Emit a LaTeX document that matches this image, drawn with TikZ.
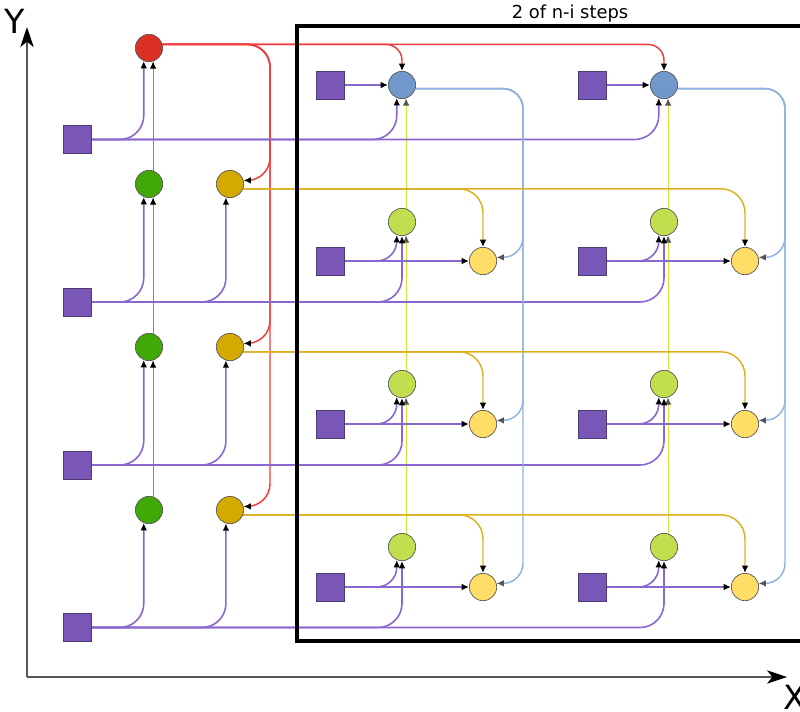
\documentclass[tikz,border=0pt]{standalone}
\usepackage{fontspec}
\setmainfont{DejaVu Sans}
\usetikzlibrary{arrows.meta,backgrounds,calc}
\definecolor{purpf}{HTML}{7A57B6}
\definecolor{purpb}{HTML}{4B3B73}
\definecolor{purpl}{HTML}{8A66D0}
\definecolor{redf}{HTML}{DC3024}
\definecolor{redl}{HTML}{F03A3A}
\definecolor{greenf}{HTML}{41A907}
\definecolor{greenl}{HTML}{5BAF2D}
\definecolor{dyf}{HTML}{D4AA00}
\definecolor{dyl}{HTML}{DDB020}
\definecolor{bluef}{HTML}{7298CB}
\definecolor{bluel}{HTML}{8FB2E3}
\definecolor{limef}{HTML}{C1DE4F}
\definecolor{limel}{HTML}{CDE635}
\definecolor{yelf}{HTML}{FFDD66}
\definecolor{circb}{HTML}{555555}
\definecolor{axisc}{HTML}{555555}
\begin{document}
\begin{tikzpicture}[x=0.75pt,y=-0.75pt,
  nd/.style={circle,draw=circb,line width=0.5pt,minimum size=20.5pt,inner sep=0pt},
  sqbox/.style={rectangle,draw=purpb,fill=purpf,line width=0.5pt,minimum size=21pt,inner sep=0pt},
  blk/.style={-{Latex[length=5.5pt,width=5pt,color=black]}},
  gry/.style={-{Latex[length=5.5pt,width=5pt,color=circb]}},
  pline/.style={draw=purpl,line width=1.2pt,blk},
  rline/.style={draw=redl,line width=1.1pt,blk},
  gline/.style={draw=greenl,line width=0.8pt,blk},
  dline/.style={draw=dyl,line width=1.1pt,blk},
  bline/.style={draw=bluel,line width=1.1pt,gry},
  lline/.style={draw=limel,line width=0.8pt,gry},
  axis/.style={draw=axisc,line width=1.1pt,-{Stealth[length=15pt,width=10pt,inset=4pt,color=black]}}
]
\useasboundingbox (0,0) rectangle (800,711);
\clip (0,0) rectangle (800,711);

% left nodes
\node[sqbox] (s0) at (77,139.5) {};
\node[sqbox] (s1) at (77,302) {};
\node[sqbox] (s2) at (77,465) {};
\node[sqbox] (s3) at (77,627.5) {};
\node[nd,fill=redf] (r) at (149,48) {};
\node[nd,fill=greenf] (g1) at (149,184) {};
\node[nd,fill=greenf] (g2) at (149,347) {};
\node[nd,fill=greenf] (g3) at (149,510) {};
\node[nd,fill=dyf] (d1) at (230,184) {};
\node[nd,fill=dyf] (d2) at (230,347) {};
\node[nd,fill=dyf] (d3) at (230,510) {};

% box nodes
\foreach \c/\dx in {a/0,b/262} {
  \node[sqbox] (bs\c) at (330+\dx,85) {};
  \node[nd,fill=bluef] (b\c) at (402+\dx,85) {};
  \foreach \i/\ly/\yy in {1/222/261,2/384/424,3/547/587} {
    \node[sqbox] (q\i\c) at (330+\dx,\yy) {};
    \node[nd,fill=limef] (l\i\c) at (402+\dx,\ly) {};
    \node[nd,fill=yelf] (y\i\c) at (483+\dx,\yy) {};
  }
}

\begin{pgfonlayer}{background}
% red
\foreach \i in {1,2,3} {
  \draw[rline,rounded corners=17pt] (r.15) -- (270,0 |- r.15) -- (270,0 |- d\i.15) -- (d\i.15);
}
\draw[rline,rounded corners=12pt] (r.15) -| (ba.north);
\draw[rline,rounded corners=12pt] (r.15) -| (bb.north);
% green chain
\draw[gline] (g1.73) -- (r.-73);
\draw[gline] (g2.73) -- (g1.-73);
\draw[gline] (g3.73) -- (g2.-73);
% lime chains
\foreach \c in {a,b} {
  \draw[lline] (l1\c.73) -- (b\c.-73);
  \draw[lline] (l2\c.73) -- (l1\c.-73);
  \draw[lline] (l3\c.73) -- (l2\c.-73);
}
% purple from s0
\draw[pline,rounded corners=18pt] (s0.east) -| (r.-112);
\draw[pline,rounded corners=18pt] (s0.east) -| (ba.-112);
\draw[pline,rounded corners=18pt] (s0.east) -| (bb.-112);
% purple rows
\foreach \i in {1,2,3} {
  \draw[pline,rounded corners=18pt] (s\i.east) -| (g\i.-112);
  \draw[pline,rounded corners=18pt] (s\i.east) -| (d\i.-107);
  \draw[pline,rounded corners=18pt] (s\i.east) -| (l\i a.south);
  \draw[pline,rounded corners=18pt] (s\i.east) -| (l\i b.south);
}
% box squares
\foreach \c in {a,b} {
  \draw[pline] (bs\c.east) -- (b\c.west);
  \foreach \i in {1,2,3} {
    \draw[pline] (q\i\c.east) -- (y\i\c.west);
    \draw[pline,rounded corners=15pt] (q\i\c.east) -| (l\i\c.-112);
  }
}
% blue
\foreach \c/\vx in {a/523,b/785} {
  \foreach \i in {1,2,3} {
    \draw[bline,rounded corners=15pt] (b\c.-15) -- (\vx,0 |- b\c.-15) -- (\vx,0 |- y\i\c.15) -- (y\i\c.15);
  }
}
% dark yellow
\foreach \i in {1,2,3} {
  \draw[dline,rounded corners=18pt] (d\i.-20) -| (y\i a.north);
  \draw[dline,rounded corners=18pt] (d\i.-20) -| (y\i b.north);
}
\end{pgfonlayer}

% box
\draw[line width=2.3pt] (297,26) rectangle (812,641);
\node[font=\fontsize{13.4}{16}\selectfont,anchor=base,inner sep=0pt] (title) at (570,18) {2 of n-i steps};

% axes
\coordinate (o) at (27,677);
\coordinate (yt) at (27,27);
\coordinate (xt) at (787,677);
\draw[axis] (o) -- (yt);
\draw[axis] (o) -- (xt);
\node[font=\fontsize{25}{30}\selectfont,anchor=base,inner sep=0pt] (ylab) at (15,33) {Y};
\node[font=\fontsize{25}{30}\selectfont,anchor=base west,inner sep=0pt] (xlab) at (783,709) {X};
\end{tikzpicture}
\end{document}
